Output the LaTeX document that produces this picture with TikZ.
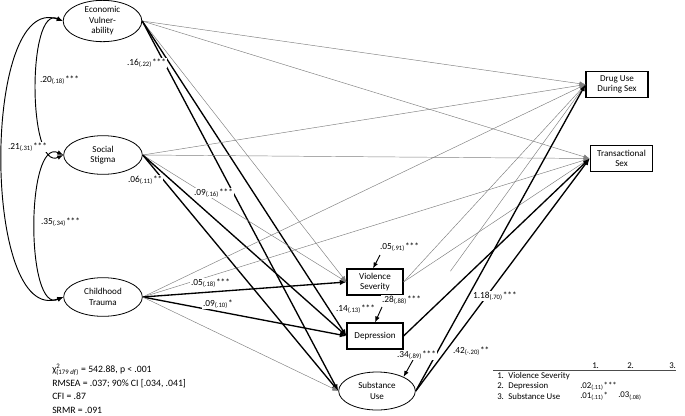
\documentclass[tikz,border=0pt]{standalone}
\usepackage{fontspec}
\setmainfont{Carlito}
\usetikzlibrary{shapes.geometric,arrows.meta}

\tikzset{
  factor/.style={ellipse, draw, line width=0.6pt, minimum width=59pt, minimum height=29pt, inner sep=0pt, align=center, font=\fontsize{6.8}{7.9}\selectfont},
  outbox/.style={rectangle, draw, line width=0.8pt, minimum width=42pt, minimum height=19.5pt, inner sep=1pt, align=center, font=\fontsize{6.8}{7.9}\selectfont},
  lbl/.style={inner sep=0.6pt, fill=white, anchor=west, font=\fontsize{7}{8}\selectfont},
  weak/.style={draw=black!50, line width=0.35pt, -{Latex[length=4.5pt,width=3.5pt]}},
  strong/.style={draw=black, line width=1pt, -{Latex[length=5pt,width=4pt]}},
  covar/.style={line width=0.7pt, {Latex[length=4.5pt,width=3.5pt]}-{Latex[length=4.5pt,width=3.5pt]}},
  err/.style={line width=0.7pt, -{Latex[length=4.5pt,width=3.5pt]}},
  tabtext/.style={inner sep=0pt, anchor=west, font=\fontsize{6.6}{7.5}\selectfont},
}
\newcommand{\coef}[3]{#1\textsubscript{(#2)}#3}

\begin{document}
\begin{tikzpicture}[x=0.75pt,y=0.75pt,yscale=-1,xscale=1]
\useasboundingbox (0,0) rectangle (685,415);

% predictors
\node[factor, minimum height=31pt] (econ) at (102.5,21) {Economic\\Vulner-\\ability};
\node[factor] (stigma) at (103,155) {Social\\Stigma};
\node[factor] (trauma) at (103,297) {Childhood\\Trauma};
% mediators
\node[outbox] (viol) at (375,282) {Violence\\Severity};
\node[outbox] (depr) at (375,336) {Depression};
\node[factor, minimum width=57.5pt, minimum height=28.5pt] (subst) at (377,391) {Substance\\Use};
% outcomes
\node[outbox, minimum width=46.5pt, minimum height=19pt] (druguse) at (617,84.5) {Drug Use\\During Sex};
\node[outbox, minimum width=47pt, minimum height=20pt] (transex) at (621.5,158.5) {Transactional\\Sex};

% covariances
\draw[covar] (econ.west) to[out=205,in=155,looseness=0.75] (stigma.west);
\draw[covar] (stigma.west) to[out=205,in=155,looseness=0.75] (trauma.west);
\draw[covar] (econ.west) to[out=200,in=160,looseness=0.8] (trauma.west);

% paths from economic vulnerability
\draw[weak] (econ.east) -- (druguse.west);
\draw[weak] (econ.east) -- (transex.west);
\draw[weak] (econ.east) -- (viol.west);
\draw[strong] (econ.east) -- (depr.west);
\draw[strong] (econ.east) -- (subst.west);
% paths from social stigma
\draw[weak] (stigma.east) -- (druguse.west);
\draw[weak] (stigma.east) -- (transex.west);
\draw[weak] (stigma.east) -- (viol.west);
\draw[strong] (stigma.east) -- (depr.west);
\draw[strong] (stigma.east) -- (subst.west);
% paths from childhood trauma
\draw[weak] (trauma.east) -- (druguse.west);
\draw[weak] (trauma.east) -- (transex.west);
\draw[strong] (trauma.east) -- (viol.west);
\draw[strong] (trauma.east) -- (depr.west);
\draw[weak] (trauma.east) -- (subst.west);
% paths from mediators
\draw[weak] (viol.east) -- (druguse.west);
\draw[weak] (viol.east) -- (transex.west);
\draw[weak, shorten <=60pt] (depr.east) -- (druguse.west);
\draw[strong] (depr.east) -- (transex.west);
\draw[strong] (subst.east) -- (druguse.west);
\draw[strong] (subst.east) -- (transex.west);

% residuals
\coordinate (eviol) at (380,255);
\coordinate (edepr) at (382,307);
\coordinate (esubst) at (413,360);
\draw[err] (eviol) -- ([xshift=-1.5pt]viol.north);
\draw[err] (edepr) -- (depr.north);
\draw[err] (esubst) -- (subst.28);

% coefficients
\node[lbl] (b1) at (126,63) {\coef{.16}{.22}{***}};
\node[lbl] (c1) at (39,80) {\coef{.20}{.18}{***}};
\node[lbl] (c2) at (7,147) {\coef{.21}{.31}{***}};
\node[lbl] (b2) at (127,180) {\coef{.06}{.11}{**}};
\node[lbl] (b3) at (193,193) {\coef{.09}{.16}{***}};
\node[lbl] (c3) at (40,222) {\coef{.35}{.34}{***}};
\node[lbl] (b4) at (190,283) {\coef{.05}{.18}{***}};
\node[lbl] (b5) at (202,304) {\coef{.09}{.10}{*}};
\node[lbl] (b6) at (335,309) {\coef{.14}{.13}{***}};
\node[lbl] (r1) at (379,247) {\coef{.05}{.91}{***}};
\node[lbl] (r2) at (381,300) {\coef{.28}{.88}{***}};
\node[lbl] (r3) at (396,355) {\coef{.34}{.89}{***}};
\node[lbl] (b7) at (472,296) {\coef{1.18}{.70}{***}};
\node[lbl] (b8) at (452,351) {\coef{.42}{-.20}{**}};

% fit statistics
\node[inner sep=0pt, anchor=north west, align=left, font=\fontsize{7.3}{10.1}\selectfont] (fit) at (52,364)
  {χ\rlap{\textsuperscript{2}}\textsubscript{(179 \textit{df})} = 542.88, p < .001\\
   RMSEA = .037; 90\% CI [.034, .041]\\
   CFI = .87\\
   SRMR = .091};

% residual correlations
\draw[line width=0.5pt, black!70] (493,370) -- (676,370);
\node[tabtext] (h1) at (592,366) {1.};
\node[tabtext] (h2) at (627,366) {2.};
\node[tabtext] (h3) at (669,366) {3.};
\node[tabtext] (t1) at (497,376) {1.\enspace Violence Severity};
\node[tabtext] (t2) at (497,386) {2.\enspace Depression};
\node[tabtext] (t3) at (497,396) {3.\enspace Substance Use};
\node[tabtext] (v21) at (580,386) {\coef{.02}{.11}{***}};
\node[tabtext] (v31) at (580,396) {\coef{.01}{.11}{*}};
\node[tabtext] (v32) at (618,396) {.03\textsubscript{(.08)}};

\end{tikzpicture}
\end{document}
